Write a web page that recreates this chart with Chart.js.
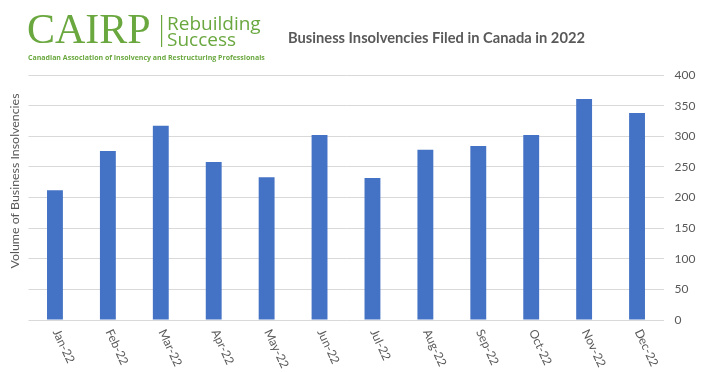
<!DOCTYPE html>
<html>
<head>
<meta charset="utf-8">
<script src="https://cdn.jsdelivr.net/npm/chart.js@4"></script>
<style>
  html, body { margin: 0; padding: 0; background: #fff; }
  #wrap { width: 708px; height: 372px; }
</style>
</head>
<body>
<div id="wrap"><canvas id="c" width="708" height="372"></canvas></div>
<script>
const months = ["Jan-22","Feb-22","Mar-22","Apr-22","May-22","Jun-22","Jul-22","Aug-22","Sep-22","Oct-22","Nov-22","Dec-22"];
const insolvencies = [212, 276, 317, 258, 233, 302, 232, 278, 284, 302, 361, 338];
const yTicks = [0, 50, 100, 150, 200, 250, 300, 350, 400];

const chartTitle = "Business Insolvencies Filed in Canada in 2022";
const yTitle = "Volume of Business Insolvencies";

const GREEN = "#6aa83f";
const GREY = "#595959";

// fit text to a given width by picking the font size
function fitFont(ctx, text, weight, family, width) {
  ctx.font = weight + " 20px " + family;
  const size = 20 * width / ctx.measureText(text).width;
  return weight + " " + size.toFixed(2) + "px " + family;
}

const decor = {
  id: "decor",
  afterDraw(chart) {
    const ctx = chart.ctx;
    const x = chart.scales.x;
    ctx.save();

    // logo
    ctx.fillStyle = GREEN;
    ctx.textBaseline = "alphabetic";
    ctx.textAlign = "left";
    ctx.font = "42px 'Liberation Serif'";
    ctx.fillText("CAIRP", 27, 43, 126);
    ctx.fillRect(161, 15, 1.2, 32);
    ctx.font = "19px 'Open Sans'";
    ctx.fillText("Rebuilding", 167, 30, 96);
    ctx.fillText("Success", 167, 46, 73);
    ctx.font = fitFont(ctx, "Canadian Association of Insolvency and Restructuring Professionals", "bold", "'Open Sans'", 237);
    ctx.fillText("Canadian Association of Insolvency and Restructuring Professionals", 28, 60);

    // title
    ctx.fillStyle = GREY;
    ctx.font = fitFont(ctx, chartTitle, "bold", "Lato", 297);
    ctx.fillText(chartTitle, 288, 43);

    // y title
    ctx.font = fitFont(ctx, yTitle, "normal", "Lato", 175);
    ctx.textAlign = "center";
    ctx.textBaseline = "middle";
    ctx.translate(15, 181);
    ctx.rotate(-Math.PI / 2);
    ctx.fillText(yTitle, 0, 0);
    ctx.setTransform(1, 0, 0, 1, 0, 0);

    // slanted month labels
    ctx.font = "12px Lato";
    ctx.textAlign = "left";
    ctx.textBaseline = "middle";
    months.forEach((m, i) => {
      ctx.save();
      ctx.translate(x.getPixelForValue(i) + 1, 330);
      ctx.rotate(65 * Math.PI / 180);
      ctx.fillText(m, 0, 0);
      ctx.restore();
    });
    ctx.restore();
  }
};

new Chart(document.getElementById("c"), {
  type: "bar",
  data: {
    labels: months,
    datasets: [{
      label: "Business Insolvencies",
      data: insolvencies,
      backgroundColor: "#4472c4",
      barPercentage: 0.3,
      categoryPercentage: 1
    }]
  },
  options: {
    responsive: false,
    animation: false,
    devicePixelRatio: 1,
    layout: { padding: { left: 28.5, right: 0, top: 75, bottom: 52 } },
    plugins: { legend: { display: false }, tooltip: { enabled: false }, title: { display: false } },
    scales: {
      x: {
        grid: { display: false },
        border: { display: false },
        ticks: { display: false },
        afterFit(s) { s.height = 0; }
      },
      y: {
        position: "right",
        min: 0,
        max: 400,
        afterBuildTicks(s) { s.ticks = yTicks.map(v => ({ value: v })); },
        grid: { color: "#d9d9d9", lineWidth: 1, drawTicks: false },
        border: { display: false },
        ticks: { color: GREY, font: { family: "Lato", size: 12 }, padding: 11 },
        afterFit(s) { s.width = 44.5; }
      }
    }
  },
  plugins: [decor]
});
</script>
</body>
</html>
